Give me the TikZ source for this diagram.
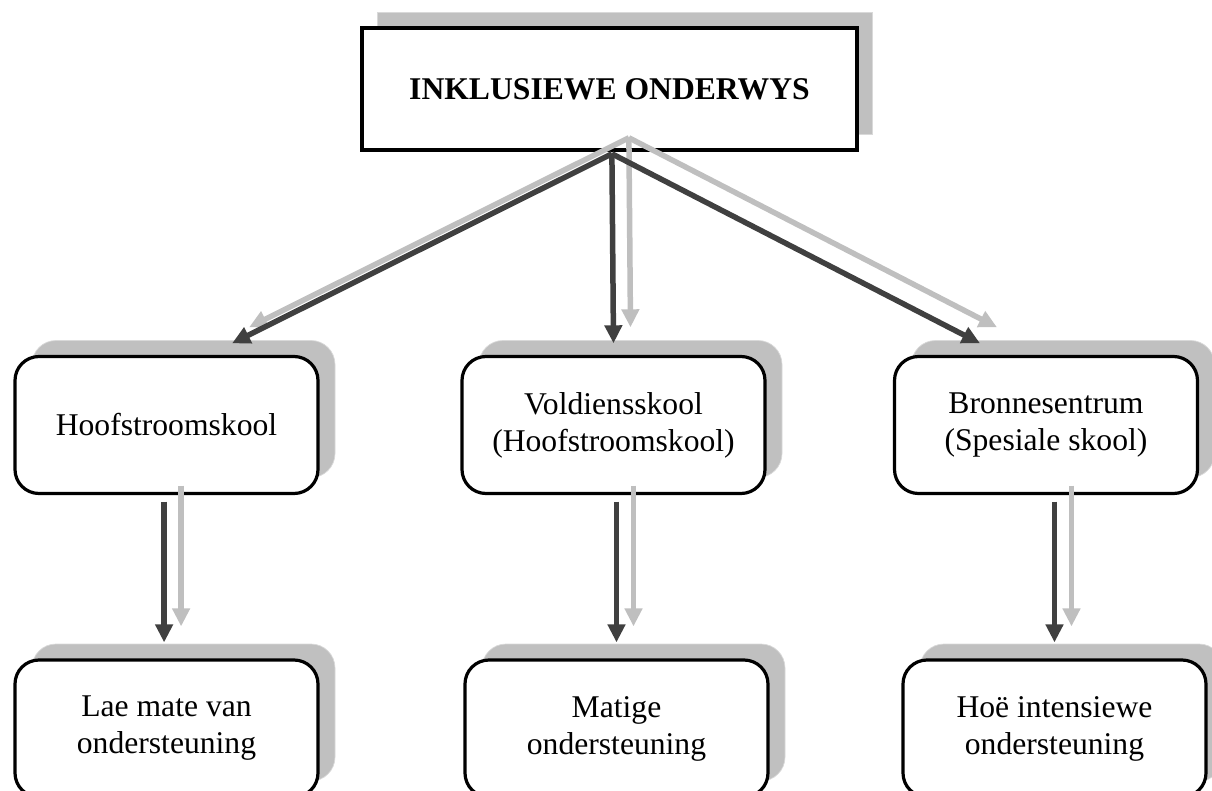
\documentclass[tikz,border=0pt]{standalone}
\usepackage{fontspec}
\setmainfont{Liberation Serif}
\usetikzlibrary{arrows.meta, positioning, calc, shadows}

\definecolor{arrowdark}{HTML}{404040}
\definecolor{arrowlight}{HTML}{BFBFBF}
\definecolor{shadowfill}{HTML}{C0C0C0}
\definecolor{shadowedge}{HTML}{D9D9D9}

\tikzset{
    topbox/.style={draw, line width=0.09cm, fill=white, inner sep=0pt,
        minimum width=12.375cm, minimum height=3.05cm,
        general shadow={fill=shadowfill, draw=shadowedge, line width=0.5pt,
            shadow xshift=0.375cm, shadow yshift=0.4cm}},
    schoolbox/.style={draw, line width=0.08cm, rounded corners=0.6cm, fill=white,
        inner sep=0pt, align=center, minimum width=7.575cm, minimum height=3.425cm,
        general shadow={fill=shadowfill, draw=shadowedge, line width=0.5pt,
            shadow xshift=0.425cm, shadow yshift=0.4cm}},
    arrowmain/.style={draw=arrowdark, line width=0.1375cm,
        -{Triangle[width=0.425cm, length=0.45cm]}},
    arrowshade/.style={arrowmain, draw=arrowlight,
        transform canvas={xshift=0.425cm, yshift=0.4cm}}
}

\begin{document}
\begin{tikzpicture}[font=\fontsize{22.5}{26.3}\selectfont]
    \useasboundingbox (0,0) rectangle (30.3,-19.775);

    % Top box
    \node[topbox] (onderwys) at (15.2375,-2.225) {\textbf{INKLUSIEWE ONDERWYS}};

    % Schools
    \node[schoolbox] (hoofstroom) at (4.1625,-10.625) {Hoofstroomskool};
    \node[schoolbox] (voldiens) at (15.3375,-10.625) {Voldiensskool\\(Hoofstroomskool)};
    \node[schoolbox] (bronne) at (26.15,-10.625) {Bronnesentrum\\(Spesiale skool)};

    % Levels of support
    \node[schoolbox] (lae) at (4.1625,-18.2125) {Lae mate van\\ondersteuning};
    \node[schoolbox] (matig) at (15.4125,-18.2125) {Matige\\ondersteuning};
    \node[schoolbox] (hoe) at (26.3625,-18.2125) {Hoë intensiewe\\ondersteuning};

    % Arrow ends
    \coordinate (fork) at ([xshift=0.06cm, yshift=-0.05cm]onderwys.south);
    \coordinate (hoofstroomIn) at ([xshift=1.64cm, yshift=0.29cm]hoofstroom.north);
    \coordinate (voldiensIn) at ([yshift=0.29cm]voldiens.north);
    \coordinate (bronneIn) at ([xshift=-1.65cm, yshift=0.29cm]bronne.north);
    \coordinate (laeOut) at ($(hoofstroom.south -| lae.north)+(-0.06,-0.16)$);
    \coordinate (matigOut) at ($(voldiens.south -| matig.north)+(0,-0.16)$);
    \coordinate (hoeOut) at ($(bronne.south -| hoe.north)+(0,-0.16)$);
    \coordinate (laeIn) at ([xshift=-0.06cm, yshift=0.4cm]lae.north);
    \coordinate (matigIn) at ([yshift=0.4cm]matig.north);
    \coordinate (hoeIn) at ([yshift=0.4cm]hoe.north);

    % Light copies first, dark arrows on top
    \foreach \from/\to in {fork/hoofstroomIn, fork/voldiensIn, fork/bronneIn,
            laeOut/laeIn, matigOut/matigIn, hoeOut/hoeIn}
        \draw[arrowshade] (\from) -- (\to);
    \foreach \from/\to in {fork/hoofstroomIn, fork/voldiensIn, fork/bronneIn,
            laeOut/laeIn, matigOut/matigIn, hoeOut/hoeIn}
        \draw[arrowmain] (\from) -- (\to);

\end{tikzpicture}
\end{document}
